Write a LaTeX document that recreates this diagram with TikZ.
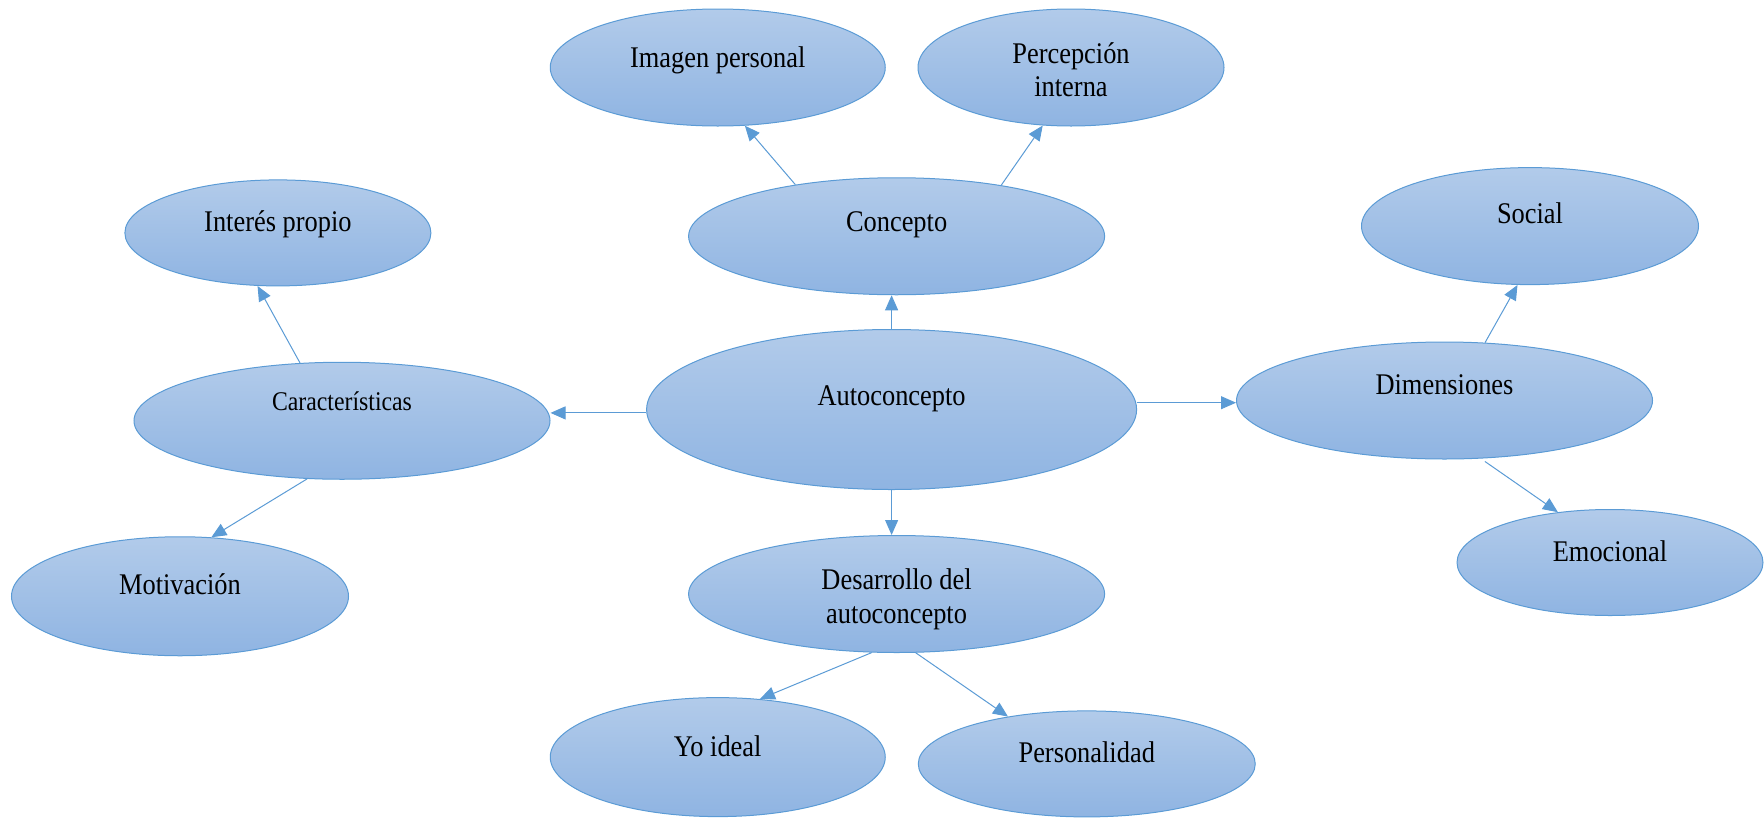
\documentclass[tikz,border=0pt]{standalone}
\usepackage{fontspec}
\setmainfont{Liberation Serif}[FakeStretch=0.88]
\usetikzlibrary{arrows.meta,shapes.geometric,calc}
\definecolor{edge}{HTML}{5B9BD5}
\definecolor{topc}{HTML}{B2CBEA}
\definecolor{botc}{HTML}{8FB4E2}
\tikzset{
  bub/.style={ellipse, draw=edge, line width=1pt, top color=topc, bottom color=botc, inner sep=0pt},
  lbl/.style={anchor=base, inner sep=0pt, font=\fontsize{30}{34}\selectfont},
  lblsm/.style={anchor=base, inner sep=0pt, font=\fontsize{27}{31}\selectfont},
  arr/.style={draw=edge, line width=1pt, -{Triangle[length=15pt,width=13pt]}, color=edge}
}
\begin{document}
\begin{tikzpicture}[x=1pt,y=-1pt]
\useasboundingbox (0,0) rectangle (1764,817);
% ellipses
\node[bub, minimum width=335pt, minimum height=117pt] (imagen) at (717.75,67.5) {};
\node[bub, minimum width=306pt, minimum height=117pt] (percepcion) at (1071,67.5) {};
\node[bub, minimum width=416pt, minimum height=117pt] (concepto) at (896.6,236.25) {};
\node[bub, minimum width=306pt, minimum height=106pt] (interes) at (277.9,232.9) {};
\node[bub, minimum width=337pt, minimum height=117pt] (social) at (1530,226.1) {};
\node[bub, minimum width=416pt, minimum height=117pt] (caract) at (342,420.75) {};
\node[bub, minimum width=490pt, minimum height=160pt] (auto) at (891.6,409.5) {};
\node[bub, minimum width=416pt, minimum height=117pt] (dimen) at (1444.5,400.5) {};
\node[bub, minimum width=337pt, minimum height=119pt] (motiv) at (180,596.25) {};
\node[bub, minimum width=416pt, minimum height=117pt] (desarr) at (896.6,594) {};
\node[bub, minimum width=306pt, minimum height=106pt] (emoc) at (1610,562.5) {};
\node[bub, minimum width=335pt, minimum height=119pt] (yoideal) at (717.75,757.1) {};
\node[bub, minimum width=337pt, minimum height=106pt] (person) at (1086.75,763.9) {};
% texts
\node[lbl] (t1) at ([yshift=0pt]imagen.center) {Imagen personal};
\node[lbl] (t2a) at ([yshift=4.5pt]percepcion.center) {Percepción};
\node[lbl] (t2b) at ([yshift=-29pt]percepcion.center) {interna};
\node[lbl] (t3) at ([yshift=4.5pt]concepto.center) {Concepto};
\node[lbl] (t4) at ([yshift=1pt]interes.center) {Interés propio};
\node[lbl] (t5) at ([yshift=2.25pt]social.center) {Social};
\node[lblsm] (t6) at ([yshift=10pt]caract.center) {Características};
\node[lbl] (t7) at ([yshift=4.5pt]auto.center) {Autoconcepto};
\node[lbl] (t8) at ([yshift=5.6pt]dimen.center) {Dimensiones};
\node[lbl] (t9) at ([yshift=2.25pt]motiv.center) {Motivación};
\node[lbl] (t10a) at ([yshift=4.5pt]desarr.center) {Desarrollo del};
\node[lbl] (t10b) at ([yshift=-29pt]desarr.center) {autoconcepto};
\node[lbl] (t11) at ([yshift=1.1pt]emoc.center) {Emocional};
\node[lbl] (t12) at ([yshift=1pt]yoideal.center) {Yo ideal};
\node[lbl] (t13) at ([yshift=1pt]person.center) {Personalidad};
% connectors
\draw[arr] (concepto.153.7) -- (imagen.-65);
\draw[arr] (concepto.26.6) -- (percepcion.244.7);
\draw[arr] (auto.north) -- (auto.north |- concepto.south);
\draw[arr] ([yshift=-3.4pt]auto.west) -- ([yshift=-3.4pt]auto.west -| caract.east);
\draw[arr] ([yshift=-2.2pt]dimen.west -| auto.east) -- ([yshift=-2.2pt]dimen.west);
\draw[arr] (auto.south) -- (auto.south |- desarr.north);
\draw[arr] (caract.126.9) -- (interes.249.8);
\draw[arr] (caract.239.7) -- (motiv.62.2);
\draw[arr] (dimen.55.5) -- (social.258.1);
\draw[arr, shorten <=5pt] (dimen.302.5) -- (emoc.136.4);
\draw[arr] (desarr.247.5) -- (yoideal.54);
\draw[arr] (desarr.288.8) -- (person.149.6);
\end{tikzpicture}
\end{document}
